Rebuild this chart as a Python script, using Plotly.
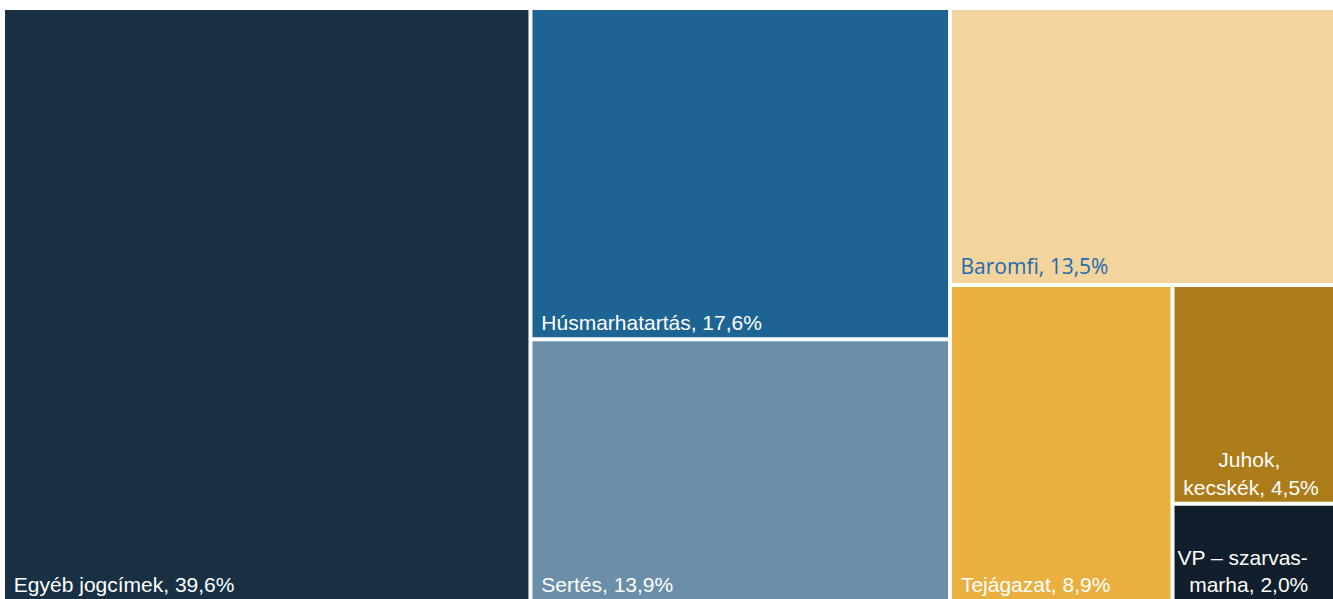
import plotly.graph_objects as go

# Data
labels = ["Egyéb jogcímek", "Húsmarhatartás", "Sertés", "Baromfi", "Tejágazat",
          "Juhok, kecskék", "VP – szarvasmarha"]
values = [39.6, 17.6, 13.9, 13.5, 8.9, 4.5, 2.0]
NB = "\u00a0"
display_text = [NB + "Egyéb jogcímek, 39,6%", NB + "Húsmarhatartás, 17,6%",
                NB + "Sertés, 13,9%", NB + "Baromfi, 13,5%", NB + "Tejágazat, 8,9%",
                NB * 7 + "Juhok,<br>" + NB + "kecskék, 4,5%",
                "VP – szarvas-<br>" + NB * 2 + "marha, 2,0%"]
colors = ["#173043", "#1e6493", "#6b8fa8", "#f2d49c", "#e9b03f", "#ad7c1a", "#111e2b"]
text_colors = ["white", "white", "white", "#1f6ab0", "white", "white", "white"]

# Hierarchy groups (layout grouping: columns / rows)
groups = {
    "G2": ["Húsmarhatartás", "Sertés"],
    "G3": ["Baromfi", "G3b"],
    "G3b": ["Tejágazat", "G3c"],
    "G3c": ["Juhok, kecskék", "VP – szarvasmarha"],
}
parent_of = {"Egyéb jogcímek": "root", "G2": "root", "G3": "root"}
for g, kids in groups.items():
    for k in kids:
        parent_of[k] = g

val_map = dict(zip(labels, values))

def total(node):
    if node in val_map:
        return val_map[node]
    return sum(total(k) for k in groups[node])

ids = ["root", "Egyéb jogcímek", "G2", "Húsmarhatartás", "Sertés", "G3", "Baromfi",
       "G3b", "Tejágazat", "G3c", "Juhok, kecskék", "VP – szarvasmarha"]
parents = ["" if i == "root" else parent_of[i] for i in ids]
vals = [sum(values) if i == "root" else total(i) for i in ids]
txt, cols, tcols, fonts = [], [], [], []
for i in ids:
    if i in labels:
        j = labels.index(i)
        txt.append(display_text[j])
        cols.append(colors[j])
        tcols.append(text_colors[j])
    else:
        txt.append("")
        cols.append("white")
        tcols.append("white")
    fonts.append("Open Sans, Calibri, sans-serif" if i == "Baromfi"
                 else "Liberation Sans, Arial, sans-serif")

fig = go.Figure(go.Treemap(
    ids=ids,
    labels=ids,
    parents=parents,
    values=vals,
    branchvalues="total",
    sort=False,
    text=txt,
    texttemplate="%{text}",
    textposition="bottom left",
    textfont=dict(size=21, color=tcols, family=fonts),
    marker=dict(colors=cols, line=dict(color="white", width=0), pad=dict(t=0, l=0, r=0, b=0)),
    tiling=dict(packing="slice-dice", pad=4),
    pathbar=dict(visible=False),
    root=dict(color="white"),
    hoverinfo="skip",
))

fig.update_layout(
    width=1333, height=599,
    margin=dict(l=5, r=0, t=10, b=0),
    paper_bgcolor="white",
    plot_bgcolor="white",
)

fig.write_html("out.html", config={"displayModeBar": False},
               post_script="document.body.style.margin='0';document.body.style.overflow='hidden';")
